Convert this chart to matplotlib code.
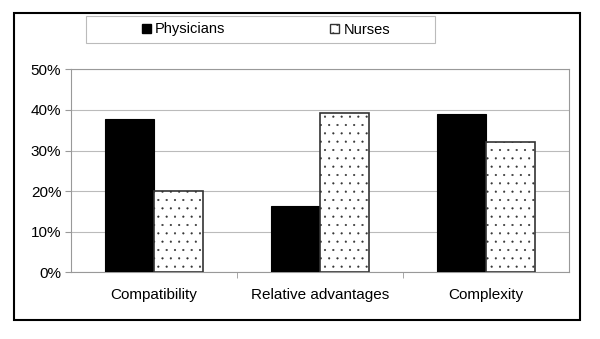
import matplotlib.pyplot as plt
import numpy as np
from matplotlib.patches import Rectangle, Patch

plt.rcParams["font.family"] = ["Liberation Sans", "DejaVu Sans"]
plt.rcParams["hatch.linewidth"] = 0.3

categories = ["Compatibility", "Relative advantages", "Complexity"]
physicians = [37.8, 16.3, 39.0]
nurses = [20.1, 39.3, 32.0]
series_names = ["Physicians", "Nurses"]

fig = plt.figure(figsize=(6, 3.39), dpi=100)
ax = fig.add_axes([71 / 600, 1 - 272.3 / 339, 498 / 600, 202.9 / 339])

x = np.arange(len(categories))
w = 0.295
ax.bar(x - w / 2, physicians, w, color="black", edgecolor="black", linewidth=0.8, zorder=3)
ax.bar(x + w / 2, nurses, w, color="white", edgecolor="#333333", hatch="..", linewidth=1.2, zorder=3)

ax.set_xlim(-0.5, 2.5)
ax.set_ylim(0, 50)
ax.set_yticks(range(0, 51, 10))
ax.set_yticklabels([f"{v}%" for v in range(0, 51, 10)], fontsize=11)
ax.set_xticks(x)
ax.set_xticklabels(categories, fontsize=11)
ax.tick_params(axis="x", length=0, pad=11)
ax.set_xticks([0.5, 1.5], minor=True)
ax.tick_params(axis="x", which="minor", length=4, color="#999999", direction="out")
ax.tick_params(axis="y", length=4, color="#999999", pad=3)
ax.yaxis.grid(True, color="#bbbbbb", linewidth=0.8, zorder=0)
for s in ax.spines.values():
    s.set_color("#999999")
    s.set_linewidth(0.8)

# outer frame and legend box
fig.patches.append(Rectangle((13.5 / 600, 1 - 320 / 339), 566.5 / 600, 307.5 / 339,
                             transform=fig.transFigure, fill=False, edgecolor="black", linewidth=1.5))
fig.patches.append(Rectangle((86 / 600, 1 - 43.3 / 339), 349 / 600, 27.6 / 339,
                             transform=fig.transFigure, fill=False, edgecolor="#bbbbbb", linewidth=0.8))

handles = [Patch(facecolor="black", edgecolor="black"),
           Patch(facecolor="white", edgecolor="#333333", hatch="..")]
fig.legend(handles, series_names, loc="center", bbox_to_anchor=(266 / 600, 1 - 29.5 / 339),
           ncol=2, frameon=False, fontsize=10.5, handlelength=0.6, handleheight=0.6,
           handletextpad=0.3, columnspacing=7.2)

fig.savefig("out.png", dpi=100)
